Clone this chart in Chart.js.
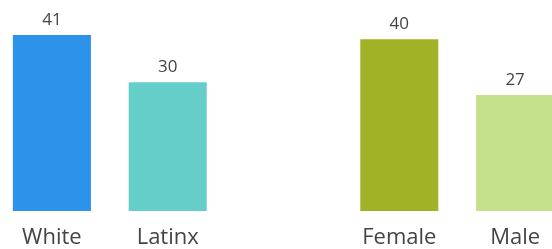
<!DOCTYPE html>
<html>
<head>
<meta charset="utf-8">
<script src="https://cdn.jsdelivr.net/npm/chart.js@4"></script>
<style>
  html,body{margin:0;padding:0;background:#fff;overflow:hidden;}
  #wrap{position:absolute;left:-6px;top:0;width:579px;height:249px;}
</style>
</head>
<body>
<div id="wrap"><canvas id="chart"></canvas></div>
<script>
const categories = ["White", "Latinx", "", "Female", "Male"];
const values = [41, 30, null, 40, 27];
const colors = ["#2d92ea", "#66cec9", "#ffffff", "#a2b227", "#c5e18b"];

const FONT = "'Open Sans', sans-serif";
const TEXT = "#444444";

// value labels above each bar
const valueLabels = {
  id: "valueLabels",
  afterDatasetsDraw(chart){
    const ctx = chart.ctx;
    const meta = chart.getDatasetMeta(0);
    ctx.save();
    ctx.font = "17px " + FONT;
    ctx.fillStyle = TEXT;
    ctx.textAlign = "center";
    ctx.textBaseline = "alphabetic";
    meta.data.forEach((bar, i) => {
      if(values[i] == null) return;
      ctx.fillText(String(values[i]), bar.x, bar.y - 10);
    });
    ctx.restore();
  }
};

new Chart(document.getElementById("chart"), {
  type: "bar",
  data: {
    labels: categories,
    datasets: [{
      data: values,
      backgroundColor: colors,
      barPercentage: 0.674,
      categoryPercentage: 1.0
    }]
  },
  options: {
    responsive: true,
    maintainAspectRatio: false,
    animation: false,
    layout: {padding: 0},
    plugins: {legend: {display: false}, tooltip: {enabled: false}},
    scales: {
      x: {
        grid: {display: false, drawTicks: false},
        border: {display: false},
        ticks: {color: TEXT, font: {family: FONT, size: 22}, padding: 14, maxRotation: 0, autoSkip: false},
        afterFit(scale){ scale.height = 38; }
      },
      y: {
        display: false,
        min: 0,
        max: 49.15
      }
    }
  },
  plugins: [valueLabels]
});
</script>
</body>
</html>
